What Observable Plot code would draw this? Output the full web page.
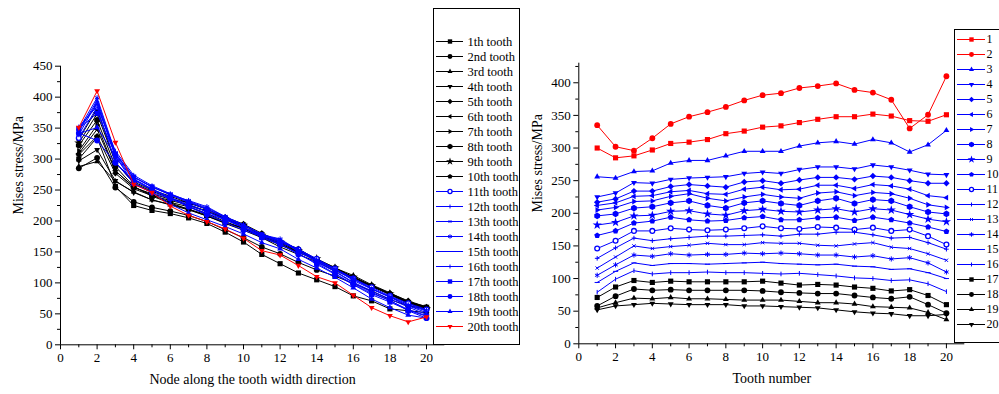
<!DOCTYPE html>
<html><head><meta charset="utf-8">
<script src="https://cdn.jsdelivr.net/npm/d3@7"></script>
<script src="https://cdn.jsdelivr.net/npm/@observablehq/plot@0.6"></script>
<style>
html,body{margin:0;padding:0;background:#fff;}
#root{position:relative;width:999px;height:394px;overflow:hidden;font-family:"Liberation Serif","Times New Roman",serif;}
#root > div{position:absolute;}
.legend{background:#fff;border:1px solid #000;box-sizing:border-box;overflow:hidden;}
svg{display:block;}
</style></head><body><div id="root"></div>
<script>
// ---- data: stress (MPa) at each node (row) for tooth 1..20 (columns)
const nodes = [1,2,3,4,5,6,7,8,9,10,11,12,13,14,15,16,17,18,19,20];
const teeth = [1,2,3,4,5,6,7,8,9,10,11,12,13,14,15,16,17,18,19,20];
const node01 = [300,285,288,297,307,309,313,322,326,332,334,339,344,348,348,352,349,342,341,351];
const node02 = [335,302,296,315,337,348,355,363,373,381,384,392,395,399,389,385,374,330,351,410];
const node03 = [256,254,264,265,277,281,281,288,295,295,295,303,308,310,306,313,308,294,305,327];
const node04 = [225,231,247,246,252,254,255,256,261,263,261,267,271,271,268,274,271,266,260,259];
const node05 = [217,222,234,234,241,244,242,240,248,250,246,251,255,255,252,257,255,250,246,246];
const node06 = [212,216,226,227,233,235,230,229,237,240,236,237,243,243,238,244,242,237,227,224];
const node07 = [205,209,218,219,226,230,223,219,225,229,225,223,231,233,227,232,230,223,213,209];
const node08 = [196,199,208,210,216,219,212,208,216,219,215,212,219,223,215,221,219,210,202,199];
const node09 = [182,186,196,197,203,204,199,197,204,206,203,202,205,207,202,207,205,198,191,187];
const node10 = [166,173,185,188,194,190,188,189,193,195,190,190,193,194,189,194,190,185,179,172];
const node11 = [146,158,173,173,177,175,174,175,177,180,177,176,179,178,175,178,173,175,165,152];
const node12 = [131,147,162,158,161,163,165,165,166,167,165,168,168,171,171,167,162,163,155,145];
const node13 = [116,133,150,146,149,151,154,152,152,155,154,154,151,150,153,155,148,146,138,128];
const node14 = [105,121,136,134,138,136,137,137,139,138,139,138,136,136,133,135,130,132,124,110];
const node15 = [94,111,124,120,123,123,122,123,124,125,123,122,121,122,119,118,114,115,109,100];
const node16 = [79,99,112,107,109,109,110,109,109,108,107,108,106,104,101,100,97,98,92,80];
const node17 = [71,87,97,94,96,95,95,95,95,96,93,90,91,90,87,85,81,83,74,60];
const node18 = [58,73,84,82,83,82,82,82,82,81,79,78,77,77,74,71,69,72,60,47];
const node19 = [55,63,70,69,71,69,69,68,67,67,67,65,63,63,61,57,56,55,48,37];
const node20 = [52,58,60,62,61,60,60,60,58,58,57,56,55,52,49,47,46,43,43,45];
const stressByNode = [node01,node02,node03,node04,node05,node06,node07,node08,node09,node10,
                      node11,node12,node13,node14,node15,node16,node17,node18,node19,node20];

const toothLabels = ["1th tooth","2nd tooth","3rd tooth","4th tooth","5th tooth","6th tooth","7th tooth",
  "8th tooth","9th tooth","10th tooth","11th tooth","12th tooth","13th tooth","14th tooth","15th tooth",
  "16th tooth","17th tooth","18th tooth","19th tooth","20th tooth"];
const nodeLabels = ["1","2","3","4","5","6","7","8","9","10","11","12","13","14","15","16","17","18","19","20"];

const xTicks = [0,2,4,6,8,10,12,14,16,18,20];
const xMinor = [1,3,5,7,9,11,13,15,17,19];
const yTicksLeft = [0,50,100,150,200,250,300,350,400,450];
const yMinorLeft = [25,75,125,175,225,275,325,375,425];
const yTicksRight = [0,50,100,150,200,250,300,350,400];
const yMinorRight = [25,75,125,175,225,275,325,375,425];

const xTitleLeft = "Node along the tooth width direction";
const xTitleRight = "Tooth number";
const yTitle = "Mises stress/MPa";

// ---- styles
const BLACK = "#000000", BLUE = "#0000ff", RED = "#ff0000";
const toothColor = i => i < 10 ? BLACK : (i < 19 ? BLUE : RED);
const nodeColor = i => i < 2 ? RED : (i < 16 ? BLUE : BLACK);

function poly(n, rot, k) {
  return {draw(ctx, size) {
    const R = Math.sqrt(size) * k;
    for (let i = 0; i < n; i++) {
      const a = rot + i * 2 * Math.PI / n;
      const x = R * Math.cos(a), y = R * Math.sin(a);
      if (i) ctx.lineTo(x, y); else ctx.moveTo(x, y);
    }
    ctx.closePath();
  }};
}
function spokes(n, rot, k) {
  return {draw(ctx, size) {
    const R = Math.sqrt(size) * k;
    for (let i = 0; i < n; i++) {
      const a = rot + i * Math.PI / n;
      ctx.moveTo(-R * Math.cos(a), -R * Math.sin(a));
      ctx.lineTo(R * Math.cos(a), R * Math.sin(a));
    }
  }};
}
const triUp = poly(3, -Math.PI/2, 0.66), triDown = poly(3, Math.PI/2, 0.66);
const triLeft = poly(3, Math.PI, 0.66), triRight = poly(3, 0, 0.66);
const pentagon = poly(5, -Math.PI/2, 0.6);
const plusSym = spokes(2, 0, 0.45), timesSym = spokes(2, Math.PI/4, 0.45), asteriskSym = spokes(3, Math.PI/2, 0.5);
const hbar = spokes(1, 0, 0.5), vbar = spokes(1, Math.PI/2, 0.45);

// symbol kind per series index: [symbol, mode]
const symbolSpec = [
  ["square","fill"], ["circle","fill"], [triUp,"fill"], [triDown,"fill"], ["diamond2","fill"],
  [triLeft,"fill"], [triRight,"fill"], ["hexagon","fill"], ["star","fill"], [pentagon,"fill"],
  ["circle","ring"], [plusSym,"stroke"], [timesSym,"stroke"], [asteriskSym,"stroke"], [hbar,"stroke"],
  [vbar,"stroke"], ["square","fill"], ["circle","fill"], [triUp,"fill"], [triDown,"fill"]
];
function symStyle(i, color, scale = 1) {
  const [symbol, mode] = symbolSpec[i];
  if (mode === "fill") return {symbol, r: 2.9 * scale, fill: color, stroke: "none"};
  if (mode === "ring") return {symbol, r: 2.4 * scale, fill: "#ffffff", stroke: color, strokeWidth: 1.3};
  return {symbol, r: 2.9 * scale, fill: "none", stroke: color, strokeWidth: 1};
}

// long table
const rows = [];
nodes.forEach((n, i) => teeth.forEach((t, j) => rows.push({node: n, tooth: t, stress: stressByNode[i][j]})));

const baseStyle = {fontFamily: "Liberation Serif, Times New Roman, serif", fontSize: "13px", color: "#000", background: "transparent", overflow: "visible"};

function axes(yTicks, yMinor) {
  return [
    Plot.axisX({ticks: xTicks, tickSize: 5, tickPadding: 3, label: null, fontSize: 13}),
    Plot.axisX({ticks: xMinor, tickSize: 3, tickFormat: () => "", label: null}),
    Plot.axisY({ticks: yTicks, tickSize: 5, tickPadding: 3, label: null, fontSize: 13}),
    Plot.axisY({ticks: yMinor, tickSize: 3, tickFormat: () => "", label: null}),
    Plot.ruleY([0], {stroke: "#000", strokeWidth: 1}),
    Plot.ruleX([0], {stroke: "#000", strokeWidth: 1})
  ];
}

// ---- left panel: x = node, series = tooth
const leftMarks = [];
teeth.forEach((t, j) => {
  const d = rows.filter(r => r.tooth === t);
  const c = toothColor(j);
  leftMarks.push(Plot.line(d, {x: "node", y: "stress", stroke: c, strokeWidth: 1}));
  leftMarks.push(Plot.dot(d, {x: "node", y: "stress", ...symStyle(j, c)}));
});
const LW = 460;
const left = Plot.plot({
  width: LW, height: 394,
  marginLeft: 60, marginRight: LW - 444.3, marginTop: 65.7, marginBottom: 49.7,
  x: {domain: [0, 21]}, y: {domain: [0, 450]},
  style: baseStyle,
  marks: [
    ...axes(yTicksLeft, yMinorLeft),
    ...leftMarks,
    Plot.text([xTitleLeft], {text: d => d, frameAnchor: "bottom", dy: 39, fontSize: 14}),
    Plot.text([yTitle], {text: d => d, frameAnchor: "left", dx: -41.5, dy: 9, rotate: -90, fontSize: 14})
  ]
});

// ---- right panel: x = tooth, series = node
const rightMarks = [];
nodes.forEach((n, i) => {
  const d = rows.filter(r => r.node === n);
  const c = nodeColor(i);
  rightMarks.push(Plot.line(d, {x: "tooth", y: "stress", stroke: c, strokeWidth: 1}));
  rightMarks.push(Plot.dot(d, {x: "tooth", y: "stress", ...symStyle(i, c)}));
});
const RW = 499;
const right = Plot.plot({
  width: RW, height: 394,
  marginLeft: 78.3, marginRight: RW - 464.3, marginTop: 62.7, marginBottom: 50.7,
  x: {domain: [0, 21]}, y: {domain: [0, 430]},
  style: baseStyle,
  marks: [
    ...axes(yTicksRight, yMinorRight),
    ...rightMarks,
    Plot.text([xTitleRight], {text: d => d, frameAnchor: "bottom", dy: 39, fontSize: 14}),
    Plot.text([yTitle], {text: d => d, frameAnchor: "left", dx: -41, dy: 9, rotate: -90, fontSize: 14})
  ]
});

// ---- legends
function legend(labels, colorOf, w, h, mt, mb, ml, lineEnd, fs, tdx) {
  const marks = [];
  labels.forEach((lab, i) => {
    const c = colorOf(i);
    marks.push(Plot.ruleY([lab], {y: d => d, x1: 0, x2: 1, stroke: c, strokeWidth: 1}));
    marks.push(Plot.dot([lab], {y: d => d, x: 0.5, ...symStyle(i, c, 0.85)}));
  });
  marks.push(Plot.text(labels, {y: d => d, x: 1, dx: tdx, text: d => d, textAnchor: "start", fontSize: fs}));
  return Plot.plot({
    width: w, height: h, marginTop: mt, marginBottom: mb, marginLeft: ml, marginRight: w - lineEnd,
    x: {domain: [0, 1], axis: null},
    y: {type: "point", domain: labels, padding: 0, axis: null},
    style: baseStyle,
    marks
  });
}

const root = document.getElementById("root");
function place(el, x, y, cls) {
  const div = document.createElement("div");
  div.style.left = x + "px"; div.style.top = y + "px";
  if (cls) div.className = cls;
  div.appendChild(el);
  root.appendChild(div);
  return div;
}
place(left, 0, 0);
place(right, 500, 0);

const legL = place(legend(toothLabels, toothColor, 85, 335, 29, 15.3, 2, 29, 12.5, 4), 433, 8, "legend");
legL.style.width = "87px"; legL.style.height = "337px";
const legR = place(legend(nodeLabels, nodeColor, 60, 312, 4, 13.5, 2, 30, 12, 1), 954, 29, "legend");
legR.style.width = "62px"; legR.style.height = "314px";
</script>
</body></html>
